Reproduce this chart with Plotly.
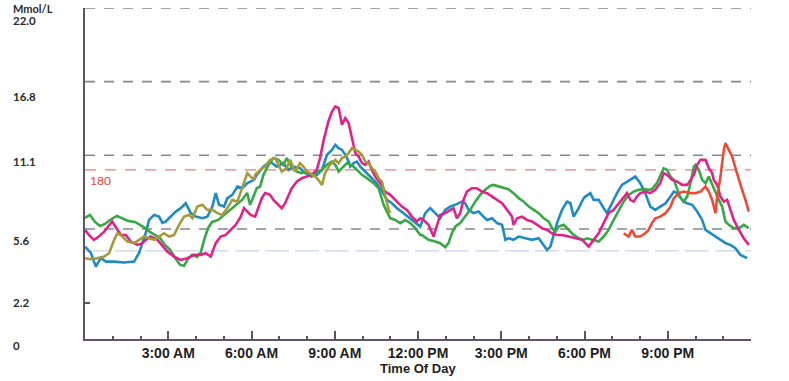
import plotly.graph_objects as go

# ---------------- data (hours of day, glucose in mmol/L) ----------------
blue_h = [0, .21, .39, .57, .75, 1.05, 1.41, 1.77, 1.95, 2.07, 2.19, 2.31, 2.49, 2.67, 2.79, 2.91, 3.09, 3.27, 3.45, 3.63,
          3.81, 3.99, 4.23, 4.41, 4.59, 4.71, 4.83, 5.01, 5.13, 5.31, 5.49, 5.67, 5.85, 6.09, 6.19, 6.43, 6.67, 6.91, 7.15,
          7.33, 7.51, 7.75, 7.93, 8.17, 8.35, 8.54, 8.72, 8.90, 9.02, 9.14, 9.26, 9.38, 9.50, 9.56, 9.68, 9.80, 9.92, 10.04,
          10.22, 10.46, 10.64, 10.76, 10.88, 11.06, 11.24, 11.48, 11.72, 11.96, 12.08, 12.26, 12.44, 12.62, 12.80, 12.98,
          13.16, 13.34, 13.58, 13.70, 13.82, 14.00, 14.18, 14.36, 14.49, 14.67, 14.85, 15.03, 15.15, 15.26, 15.44, 15.63,
          15.87, 16.11, 16.35, 16.47, 16.65, 16.77, 16.89, 17.01, 17.19, 17.37, 17.49, 17.61, 17.79, 17.97, 18.03, 18.21,
          18.33, 18.51, 18.69, 18.81, 18.99, 19.17, 19.35, 19.53, 19.71, 19.83, 20.01, 20.19, 20.37, 20.55, 20.73, 20.92,
          21.10, 21.22, 21.34, 21.46, 21.57, 21.70, 21.88, 22.06, 22.24, 22.36, 22.54, 22.72, 22.90, 23.08, 23.26, 23.44,
          23.62, 23.86]
blue_v = [4.22, 3.75, 2.71, 3.37, 3.09, 3.09, 3.02, 3.09, 3.75, 4.5, 5.25, 6.24, 6.61, 6.48, 6.01, 6.11, 6.48, 6.86, 7.12, 7.49,
          6.74, 6.48, 6.36, 6.48, 7.24, 8.25, 7.37, 7.24, 7.87, 8.12, 8.75, 8.63, 9.0, 9.25, 9.63, 10.25, 10.63, 10.25, 10.51,
          10.0, 10.25, 10.13, 9.76, 9.63, 9.63, 10.0, 11.14, 11.51, 11.89, 11.64, 11.51, 11.14, 10.63, 10.25, 10.51, 10.63,
          10.25, 10.0, 9.63, 9.12, 8.62, 8.12, 7.74, 7.49, 7.12, 6.74, 6.36, 5.99, 5.73, 6.74, 7.12, 6.74, 6.36, 6.99, 7.24,
          7.37, 7.61, 7.49, 6.99, 6.74, 6.86, 6.48, 6.23, 6.36, 5.99, 5.86, 4.73, 4.85, 4.73, 4.98, 4.85, 4.73, 4.85, 4.48,
          3.97, 4.22, 5.10, 5.99, 6.99, 7.61, 7.49, 6.48, 7.12, 7.87, 7.99, 8.25, 7.74, 7.74, 7.12, 6.74, 7.49, 8.25, 8.87,
          9.12, 9.38, 9.50, 9.0, 8.25, 7.24, 6.99, 7.24, 7.49, 7.99, 8.37, 8.25, 7.87, 7.61, 7.49, 7.37, 6.86, 6.23, 5.48,
          5.23, 4.98, 4.73, 4.48, 4.35, 4.10, 3.60, 3.35]

green_h = [0, .18, .36, .54, .72, .90, 1.15, 1.33, 1.55, 1.80, 1.98, 2.16, 2.34, 2.52, 2.70, 2.88, 3.07, 3.25, 3.43, 3.57,
           3.71, 3.86, 4.04, 4.18, 4.29, 4.44, 4.58, 4.80, 5.01, 5.23, 5.45, 5.66, 5.84, 5.95, 6.19, 6.31, 6.43, 6.61, 6.79,
           6.97, 7.15, 7.27, 7.45, 7.63, 7.81, 7.99, 8.17, 8.35, 8.54, 8.72, 8.90, 9.02, 9.14, 9.26, 9.44, 9.56, 9.68, 9.80,
           9.98, 10.16, 10.40, 10.58, 10.76, 10.88, 11.0, 11.18, 11.36, 11.54, 11.72, 11.90, 12.08, 12.14, 12.38, 12.62,
           12.80, 12.98, 13.10, 13.22, 13.34, 13.52, 13.70, 13.88, 14.06, 14.24, 14.42, 14.60, 14.72, 14.90, 15.08, 15.26,
           15.44, 15.63, 15.81, 15.99, 16.17, 16.35, 16.53, 16.71, 16.83, 16.95, 17.07, 17.25, 17.43, 17.61, 17.79, 17.97,
           18.09, 18.33, 18.51, 18.69, 18.87, 18.99, 19.11, 19.23, 19.41, 19.59, 19.77, 19.95, 20.13, 20.31, 20.43, 20.61,
           20.79, 20.85, 20.97, 21.10, 21.22, 21.34, 21.46, 21.57, 21.70, 21.82, 21.94, 22.0, 22.12, 22.24, 22.36, 22.48,
           22.60, 22.72, 22.84, 22.96, 23.08, 23.20, 23.38, 23.56, 23.74, 23.92]
green_v = [6.39, 6.61, 6.08, 5.78, 5.93, 6.23, 6.54, 6.39, 6.16, 6.08, 5.86, 5.63, 5.33, 5.10, 4.88, 4.35, 3.97, 3.37, 2.84,
           2.77, 3.29, 3.6, 3.45, 3.82, 4.73, 5.63, 6.08, 6.23, 6.61, 6.99, 7.37, 7.74, 8.27, 7.37, 8.62, 8.75, 9.63, 10.38,
           10.89, 10.76, 10.38, 10.89, 10.25, 9.88, 9.76, 9.88, 9.50, 9.88, 10.0, 10.38, 10.63, 10.38, 9.88, 10.13, 10.51,
           10.38, 10.25, 10.0, 9.63, 9.38, 9.0, 8.62, 7.37, 6.86, 6.36, 6.23, 5.99, 6.23, 5.99, 5.61, 5.10, 5.10, 4.73, 4.60,
           4.48, 4.18, 4.48, 5.23, 5.73, 5.99, 6.48, 6.99, 7.61, 8.12, 8.50, 8.80, 8.87, 8.75, 8.62, 8.55, 8.25, 7.87, 7.61,
           7.24, 6.99, 6.74, 6.36, 6.11, 5.61, 5.35, 5.73, 5.86, 5.48, 5.10, 4.85, 4.73, 4.85, 4.73, 4.60, 4.98, 5.48, 5.99,
           6.48, 6.99, 7.61, 8.12, 8.37, 8.50, 8.55, 8.50, 8.55, 9.0, 9.76, 10.13, 10.0, 9.50, 9.25, 8.62, 7.87, 7.61, 7.99,
           9.0, 10.25, 10.38, 10.0, 9.25, 9.0, 9.50, 8.87, 8.37, 7.74, 7.24, 6.11, 5.86, 5.61, 5.61, 5.86, 5.61]

magenta_h = [0, .14, .32, .50, .69, .87, .98, 1.11, 1.29, 1.47, 1.65, 1.89, 2.07, 2.19, 2.37, 2.61, 2.97, 3.21, 3.45, 3.69,
             3.93, 4.17, 4.35, 4.53, 4.71, 4.89, 5.07, 5.25, 5.43, 5.61, 5.73, 5.85, 5.97, 6.13, 6.25, 6.37, 6.49, 6.67,
             6.79, 6.91, 7.09, 7.21, 7.33, 7.45, 7.63, 7.81, 7.99, 8.17, 8.35, 8.47, 8.59, 8.77, 8.90, 9.02, 9.14, 9.26,
             9.38, 9.50, 9.62, 9.74, 9.86, 9.98, 10.10, 10.22, 10.34, 10.46, 10.64, 10.82, 11.0, 11.24, 11.42, 11.60,
             11.78, 11.96, 12.08, 12.20, 12.38, 12.56, 12.68, 12.80, 12.98, 13.16, 13.28, 13.40, 13.52, 13.64, 13.76,
             13.94, 14.12, 14.30, 14.49, 14.67, 14.85, 15.03, 15.21, 15.39, 15.44, 15.57, 15.75, 15.93, 16.11, 16.29,
             16.47, 16.65, 16.83, 17.01, 17.19, 17.43, 17.67, 17.91, 18.03, 18.15, 18.33, 18.51, 18.69, 18.87, 19.05,
             19.23, 19.41, 19.53, 19.65, 19.77, 19.89, 20.01, 20.19, 20.37, 20.55, 20.73, 20.85, 20.97, 21.16, 21.34,
             21.52, 21.70, 21.82, 21.94, 22.06, 22.18, 22.36, 22.48, 22.60, 22.66, 22.78, 22.90, 23.02, 23.14, 23.26,
             23.38, 23.56, 23.74, 23.92]
magenta_v = [5.48, 5.10, 4.73, 4.98, 5.35, 5.86, 6.11, 5.68, 5.10, 5.10, 4.60, 4.35, 4.48, 4.73, 4.98, 4.73, 3.84, 3.47,
             3.22, 3.35, 3.60, 3.60, 3.72, 3.47, 4.48, 4.98, 5.10, 5.48, 5.86, 6.48, 7.12, 6.86, 6.61, 6.48, 7.12, 7.87,
             8.25, 8.12, 7.74, 7.49, 7.12, 7.49, 8.12, 8.62, 9.12, 9.38, 9.50, 9.63, 10.0, 10.89, 12.14, 13.65, 14.40,
             14.78, 14.66, 13.40, 13.90, 13.53, 12.40, 11.27, 11.01, 10.51, 10.38, 10.63, 10.0, 9.50, 9.0, 8.37, 8.12,
             7.61, 7.24, 6.99, 6.48, 6.11, 6.36, 6.23, 5.86, 4.98, 5.86, 6.61, 6.74, 6.99, 7.12, 6.36, 6.74, 7.74, 8.37,
             8.62, 8.62, 8.37, 8.25, 7.99, 7.74, 7.49, 6.99, 6.48, 5.86, 6.36, 6.48, 6.23, 6.11, 5.86, 5.61, 5.48, 5.23,
             5.10, 5.10, 4.98, 4.85, 4.73, 4.48, 4.22, 4.73, 5.23, 5.99, 6.74, 6.99, 7.49, 7.99, 8.25, 7.74, 7.61, 7.99,
             8.25, 8.37, 8.25, 8.50, 9.0, 9.76, 9.63, 9.25, 9.12, 8.87, 8.87, 9.25, 9.63, 10.38, 10.76, 10.76, 10.13,
             9.76, 9.25, 8.87, 7.99, 7.61, 7.74, 6.99, 6.23, 5.48, 4.85, 4.35]

olive_h = [0, .21, .44, .69, .87, 1.05, 1.17, 1.35, 1.53, 1.77, 1.95, 2.13, 2.31, 2.49, 2.67, 2.85, 3.03, 3.21, 3.39, 3.57,
           3.75, 3.87, 4.05, 4.23, 4.41, 4.59, 4.77, 4.95, 5.13, 5.31, 5.49, 5.61, 5.73, 5.85, 5.97, 6.09, 6.13, 6.31,
           6.49, 6.67, 6.85, 6.97, 7.09, 7.27, 7.39, 7.57, 7.75, 7.87, 7.99, 8.11, 8.29, 8.41, 8.54, 8.65, 8.83, 9.02,
           9.14, 9.26, 9.38, 9.50, 9.62, 9.74, 9.86, 9.98, 10.10, 10.22, 10.34, 10.46, 10.58, 10.70, 10.82, 10.94, 11.0]
olive_v = [3.35, 3.27, 3.35, 3.47, 3.72, 4.73, 5.23, 4.98, 4.60, 4.48, 4.73, 4.98, 4.85, 4.73, 4.98, 5.23, 4.98, 5.10, 5.86,
           6.48, 6.61, 6.36, 7.24, 7.37, 6.99, 6.99, 6.74, 6.61, 7.12, 7.74, 7.61, 8.37, 9.0, 9.76, 9.50, 9.25, 9.63, 10.0,
           10.25, 10.76, 10.89, 10.38, 9.88, 10.13, 10.76, 9.88, 10.51, 10.25, 9.88, 9.76, 9.50, 9.25, 8.87, 9.76, 10.38,
           10.76, 10.51, 10.89, 11.01, 11.27, 11.64, 11.51, 11.39, 11.14, 10.63, 10.51, 10.13, 9.88, 9.38, 9.12, 8.12,
           6.99, 6.74]

red_h = [19.41, 19.59, 19.71, 19.83, 20.01, 20.19, 20.31, 20.43, 20.55, 20.73, 20.92, 21.10, 21.22, 21.40, 21.57, 21.82,
         22.0, 22.18, 22.36, 22.48, 22.60, 22.72, 22.78, 22.90, 23.02, 23.08, 23.20, 23.32, 23.44, 23.56, 23.68, 23.80,
         23.92]
red_v = [5.23, 4.98, 5.48, 4.98, 4.98, 5.23, 5.48, 5.99, 6.36, 6.48, 6.74, 7.24, 7.87, 8.25, 8.37, 8.25, 8.25, 8.37, 8.75,
         8.37, 7.74, 6.74, 7.99, 9.50, 11.51, 12.02, 11.51, 11.01, 10.13, 9.25, 8.50, 7.74, 6.86]

# reference lines (mmol/L)
grid_levels = [22.2, 16.65, 11.1, 5.55]
target_level = 10.0     # 180 mg/dL
low_level = 3.9         # 70 mg/dL

# axis labels
x_tickvals = [3, 6, 9, 12, 15, 18, 21]
x_ticktext = ["3:00 AM", "6:00 AM", "9:00 AM", "12:00 PM", "3:00 PM", "6:00 PM", "9:00 PM"]
y_labels = ["22.0", "16.8", "11.1", "5.6", "2.2"]
y_label_pos = [21.25, 15.51, 10.61, 4.65, 0.0]

# ---------------- figure ----------------
axis_color = "#5e5466"
fig = go.Figure()

series = [
    (blue_h, blue_v, "#1e8bc3"),
    (green_h, green_v, "#38a846"),
    (magenta_h, magenta_v, "#e0238a"),
    (olive_h, olive_v, "#a59a3a"),
    (red_h, red_v, "#ec4b36"),
]
for hx, vy, col in series:
    fig.add_trace(go.Scatter(x=hx, y=vy, mode="lines",
                             line=dict(color=col, width=2.6), showlegend=False,
                             hoverinfo="skip"))

# dashed guide lines
for lv in grid_levels:
    fig.add_shape(type="line", xref="x", yref="y", x0=0, x1=24, y0=lv, y1=lv,
                  line=dict(color="#8b8590", width=1.6, dash="10px,9px"), layer="below")
fig.add_shape(type="line", xref="x", yref="y", x0=0, x1=24, y0=target_level, y1=target_level,
              line=dict(color="#f07b78", width=1.4, dash="11px,9px"), layer="below")
fig.add_shape(type="line", xref="x", yref="y", x0=0, x1=24, y0=low_level, y1=low_level,
              line=dict(color="#cdd1f2", width=1.3, dash="24px,6px"), layer="below")

label_x = -0.111
lab_font = dict(family="Lato", size=11.5, color="#2a2a2a", weight="bold")
fig.add_annotation(text="Mmol/L", x=label_x, xref="paper", xanchor="left", y=1, yref="paper",
                   yanchor="middle", yshift=0, showarrow=False,
                   font=dict(family="Lato", size=11, color="#2a2a2a", weight="bold"))
for t, p in zip(y_labels, y_label_pos):
    fig.add_annotation(text=t, x=label_x, xref="paper", xanchor="left", y=p, yref="y",
                       yanchor="middle", showarrow=False, font=lab_font)
fig.add_annotation(text="0", x=label_x, xref="paper", xanchor="left", y=0, yref="paper",
                   yanchor="middle", yshift=-6, showarrow=False, font=lab_font)
fig.add_annotation(text="180", x=0.004, xref="paper", xanchor="left", y=target_level, yref="y",
                   yanchor="top", yshift=-1, showarrow=False,
                   font=dict(family="Lato", size=12, color="#e8463c"))
fig.add_annotation(text="Time Of Day", x=0.5, xref="paper", xanchor="center", y=0, yref="paper",
                   yanchor="middle", yshift=-29, showarrow=False,
                   font=dict(family="Liberation Sans", size=13, color="#1e1e1e", weight="bold"))

fig.update_xaxes(range=[0, 24], tickvals=x_tickvals, ticktext=x_ticktext,
                 ticks="inside", ticklen=8, tickwidth=1.5, tickcolor=axis_color,
                 minor=dict(ticks="inside", ticklen=3.5, tickwidth=1.5, tickcolor=axis_color, dtick=1, showgrid=False),
                 showline=True, linecolor=axis_color, linewidth=1.6,
                 showgrid=False, zeroline=False,
                 tickfont=dict(family="Liberation Sans", size=14, color="#1e1e1e", weight="bold"))
fig.update_yaxes(range=[-2.74, 22.2], tickvals=[0], ticktext=[""], ticks="inside", ticklen=5, tickwidth=1.5,
                 tickcolor=axis_color, showline=True, linecolor=axis_color, linewidth=1.6,
                 showgrid=False, zeroline=False)

fig.update_layout(width=789, height=381, margin=dict(l=85, r=38, t=8, b=42),
                  plot_bgcolor="white", paper_bgcolor="white", hovermode=False)

fig.write_html("out.html", config={"displayModeBar": False},
               post_script="document.body.style.margin='0';document.body.style.overflow='hidden';")
